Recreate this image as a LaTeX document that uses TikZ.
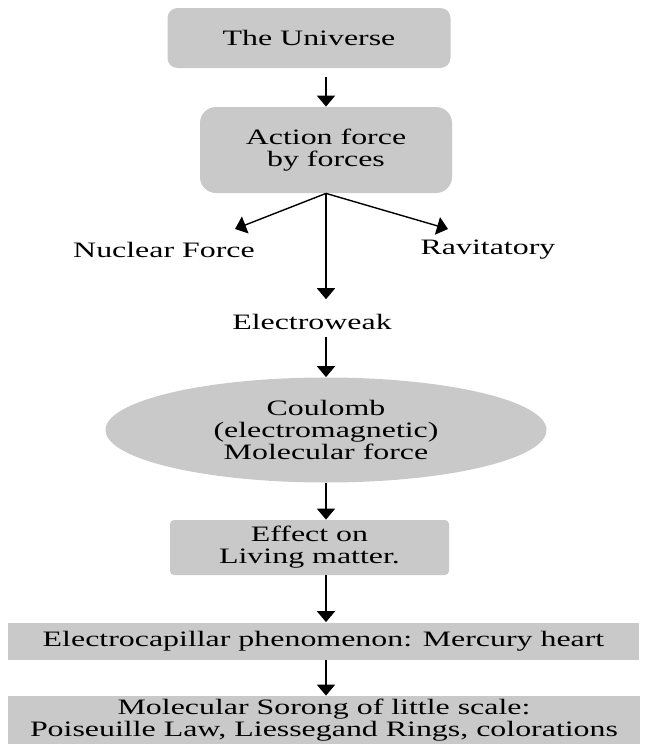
\documentclass[tikz,border=0pt]{standalone}
\usepackage{fontspec}
\setmainfont[FakeStretch=1.45]{Liberation Serif}
\usepackage{tikz}
\usetikzlibrary{arrows.meta,shapes.geometric}
\definecolor{boxgray}{RGB}{201,201,201}
\tikzset{
	box/.style={fill=boxgray,align=center,inner sep=0pt},
	arr/.style={draw,line width=1pt,-{Triangle[width=9pt,length=5.5pt]}},
	arrthin/.style={draw,line width=0.7pt,-{Triangle[width=9pt,length=5.5pt]}}
}

\begin{document}
\begin{tikzpicture}[x=0.5pt,y=-0.5pt,font=\fontsize{11}{11}\selectfont]
	\useasboundingbox (0,0) rectangle (664,744);
	\clip (0,0) rectangle (664,744);
	\draw (309,38) node(v1) [box,rounded corners=5pt,minimum width=141.5pt,minimum height=30pt] {The Universe};
	\draw (326,150) node(v2) [box,rounded corners=8pt,minimum width=126pt,minimum height=43pt] {Action force\\by forces};
	\draw (164,250) node(v3) {Nuclear Force};
	\draw (488,250) node(v4) {Ravitatory};
	\draw (312,322) node(v5) {Electroweak};
	\draw (326,430) node(v6) [box,ellipse,minimum width=220.5pt,minimum height=52.5pt] {Coulomb\\(electromagnetic)\\Molecular force};
	\draw (309.5,547.5) node(v7) [box,rounded corners=2pt,minimum width=139.5pt,minimum height=27.5pt] {Effect on\\Living matter.};
	\draw (323.5,641) node(v8) [box,minimum width=315.5pt,minimum height=18.5pt] {Electrocapillar phenomenon: Mercury heart};
	\draw (324,720) node(v9) [box,minimum width=316pt,minimum height=24pt,font=\fontsize{11}{9.5}\selectfont] {Molecular Sorong of little scale:\\Poiseuille Law, Liessegand Rings, colorations};
	\fill[boxgray] (v9.south west) rectangle ++(632,30);
	\coordinate (v101) at (235,229);
	\coordinate (v102) at (448,229);
	\path[arr,shorten <=4.5pt] (v1.south -| v2.north) -- (v2.north);
	\path[arrthin] (v2.south) -- (v101);
	\path[arrthin] (v2.south) -- (v102);
	\path[arr,shorten >=4pt] (v2.south) -- (v2.south |- v5.north);
	\path[arr] (v5.south -| v6.north) -- (v6.north);
	\path[arr] (v6.south) -- (v6.south |- v7.north);
	\path[arr] (v7.south -| v6.south) -- (v6.south |- v8.north);
	\path[arr] (v8.south -| v6.south) -- (v6.south |- v9.north);
\end{tikzpicture}
\end{document}
